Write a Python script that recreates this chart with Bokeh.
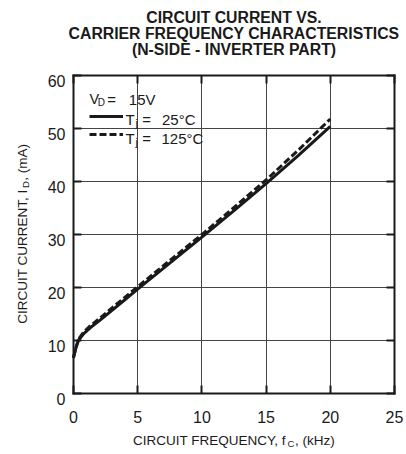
import math
from bokeh.plotting import figure
from bokeh.models import (Range1d, LinearAxis, FixedTicker, Label, Legend, LegendItem,
                          ColumnDataSource, Grid)
from bokeh.core.properties import value
from bokeh.embed import file_html
from bokeh.resources import INLINE

# ---- data ----
freq_khz = [0, 0.2, 0.4, 0.8, 1.3, 2, 3, 4, 5, 7.5, 10, 12.5, 15, 17.5, 20]
current_25c = [6.6, 8.6, 10.0, 11.2, 12.3, 13.6, 15.6, 17.6, 19.6, 24.5, 29.4, 34.4, 39.5, 44.8, 50.3]
current_125c = [6.7, 8.7, 10.2, 11.5, 12.65, 14.0, 16.05, 18.05, 20.05, 25.0, 29.9, 35.0, 40.2, 45.8, 51.7]
x_ticks = [0, 5, 10, 15, 20, 25]
y_ticks = [0, 10, 20, 30, 40, 50, 60]
title_lines = ["CIRCUIT CURRENT VS.", "CARRIER FREQUENCY CHARACTERISTICS", "(N-SIDE - INVERTER PART)"]

FONT = "Liberation Sans"
INK = "#1a1a1a"

# ---- page geometry (pixels) ----
W, H = 406, 454
DY = 3.0                      # observed vertical offset of the canvas on the page
AX_L, AX_R = 73.0, 394.0
AX_T, AX_B = 77.5 - DY, 395.5 - DY
X0, X1 = x_ticks[0], x_ticks[-1]
Y0, Y1 = y_ticks[0], y_ticks[-1]
kx = (AX_R - AX_L) / (X1 - X0)
ky = (AX_B - AX_T) / (Y1 - Y0)

# the frame spans the whole canvas; axes are pinned at the data box edges
p = figure(width=W, height=H,
           x_range=Range1d(X0 - AX_L / kx, X1 + (W - AX_R) / kx),
           y_range=Range1d(Y0 - (H - AX_B) / ky, Y1 + AX_T / ky),
           output_backend="svg", toolbar_location=None, title=None,
           x_axis_location=None, y_axis_location=None,
           min_border_left=0, min_border_right=0, min_border_top=0, min_border_bottom=0)
p.background_fill_color = "white"
p.border_fill_color = "white"
p.outline_line_color = None


def make_axis(ticks, loc, bounds):
    ax = LinearAxis(ticker=FixedTicker(ticks=ticks), fixed_location=loc, bounds=bounds)
    ax.axis_line_color = INK
    ax.axis_line_width = 2
    ax.axis_line_cap = "square"
    ax.major_tick_in = 8
    ax.major_tick_out = 0
    ax.major_tick_line_width = 2
    ax.major_tick_line_color = INK
    ax.minor_tick_line_color = None
    ax.major_label_text_font_size = "0px"
    ax.major_label_text_color = None
    ax.major_label_standoff = 0
    return ax


p.add_layout(make_axis(y_ticks, X0, (Y0, Y1)), "left")
p.add_layout(make_axis(y_ticks, X1, (Y0, Y1)), "right")
p.add_layout(make_axis(x_ticks, Y0, (X0, X1)), "below")
p.add_layout(make_axis(x_ticks, Y1, (X0, X1)), "above")

# grid
inner_x = x_ticks[1:-1]
inner_y = y_ticks[1:-1]
if "cross_bounds" in Grid.properties():
    for g, ticks, b, cb in ((p.xgrid, inner_x, (X0, X1), (Y0, Y1)),
                            (p.ygrid, inner_y, (Y0, Y1), (X0, X1))):
        g.ticker = FixedTicker(ticks=ticks)
        g.bounds = b
        g.cross_bounds = cb
        g.grid_line_color = "#444444"
        g.grid_line_width = 1
else:
    p.xgrid.visible = False
    p.ygrid.visible = False
    p.segment(x0=inner_x, y0=[Y0] * len(inner_x), x1=inner_x, y1=[Y1] * len(inner_x),
              line_color="#444444", line_width=1)
    p.segment(x0=[X0] * len(inner_y), y0=inner_y, x1=[X1] * len(inner_y), y1=inner_y,
              line_color="#444444", line_width=1)

# tick labels (from the tick arrays, placed through the scales)
xs = ColumnDataSource(dict(x=x_ticks, y=[Y0] * len(x_ticks), t=[str(v) for v in x_ticks]))
ys = ColumnDataSource(dict(x=[X0] * len(y_ticks), y=y_ticks, t=[str(v) for v in y_ticks]))
p.text(x="x", y="y", text="t", source=xs, text_align="center", text_baseline="alphabetic",
       y_offset=23.8, text_font=value(FONT), text_font_size=value("16px"), text_color=INK)
p.text(x="x", y="y", text="t", source=ys, text_align="right", text_baseline="alphabetic",
       x_offset=-8, y_offset=5.7, text_font=value(FONT), text_font_size=value("16px"),
       text_color=INK)

# curves
r25 = p.line(freq_khz, current_25c, line_width=3, line_color=INK)
r125 = p.line(freq_khz, current_125c, line_width=3, line_color=INK, line_dash="7 3")

legend = Legend(items=[LegendItem(label=" ", renderers=[r25]),
                       LegendItem(label=" ", renderers=[r125])],
                location=(89, H - (145.5 - DY)), glyph_width=34, glyph_height=18,
                label_height=18, label_width=0, spacing=0, padding=0, margin=0,
                label_standoff=0, border_line_color=None, background_fill_alpha=0,
                label_text_font_size="1px")
p.add_layout(legend)


def lab(text, px, py, size, bold=False, align="left", angle=0.0):
    """px, py: page pixels from the top-left (py = text baseline)."""
    p.add_layout(Label(text=text, x=px, y=H - (py - DY), x_units="screen", y_units="screen",
                       text_font=FONT, text_font_size=size, text_color=INK,
                       text_font_style="bold" if bold else "normal",
                       text_align=align, text_baseline="alphabetic", angle=angle))


# title
for line, yb in zip(title_lines, (20.0, 36.0, 51.7)):
    lab(line, 233.5, yb, "15.8px", bold=True, align="center")

# legend texts
lab("V", 89.0, 101.7, "14.5px")
lab("D", 97.3, 104.8, "10px")
lab("=", 106.7, 101.7, "15px")
lab("15V", 128.3, 101.7, "15px")
lab("T", 125.0, 122.3, "15px")
lab("j", 135.0, 125.7, "11px")
lab("=", 141.7, 122.3, "15px")
lab("25°C", 161.5, 122.3, "15px")
lab("T", 125.0, 140.7, "15px")
lab("j", 135.0, 144.1, "11px")
lab("=", 141.7, 140.7, "15px")
lab("125°C", 161.0, 140.7, "15px")

# x axis label with subscript
lab("CIRCUIT FREQUENCY, f", 132.5, 443.3, "13.5px")
lab("C", 287.0, 446.3, "9.5px")
lab(", (kHz)", 294.4, 443.3, "13.5px")

# y axis label with subscript (rotated, reads bottom to top)
a = math.pi / 2
lab("CIRCUIT CURRENT, I", 21.7, 454 - 127.8, "13.5px", angle=a)
lab("D", 24.7, 454 - 263.5, "9.5px", angle=a)
lab(", (mA)", 21.7, 454 - 270.7, "13.5px", angle=a)

open("out.html", "w").write(file_html(p, INLINE))
